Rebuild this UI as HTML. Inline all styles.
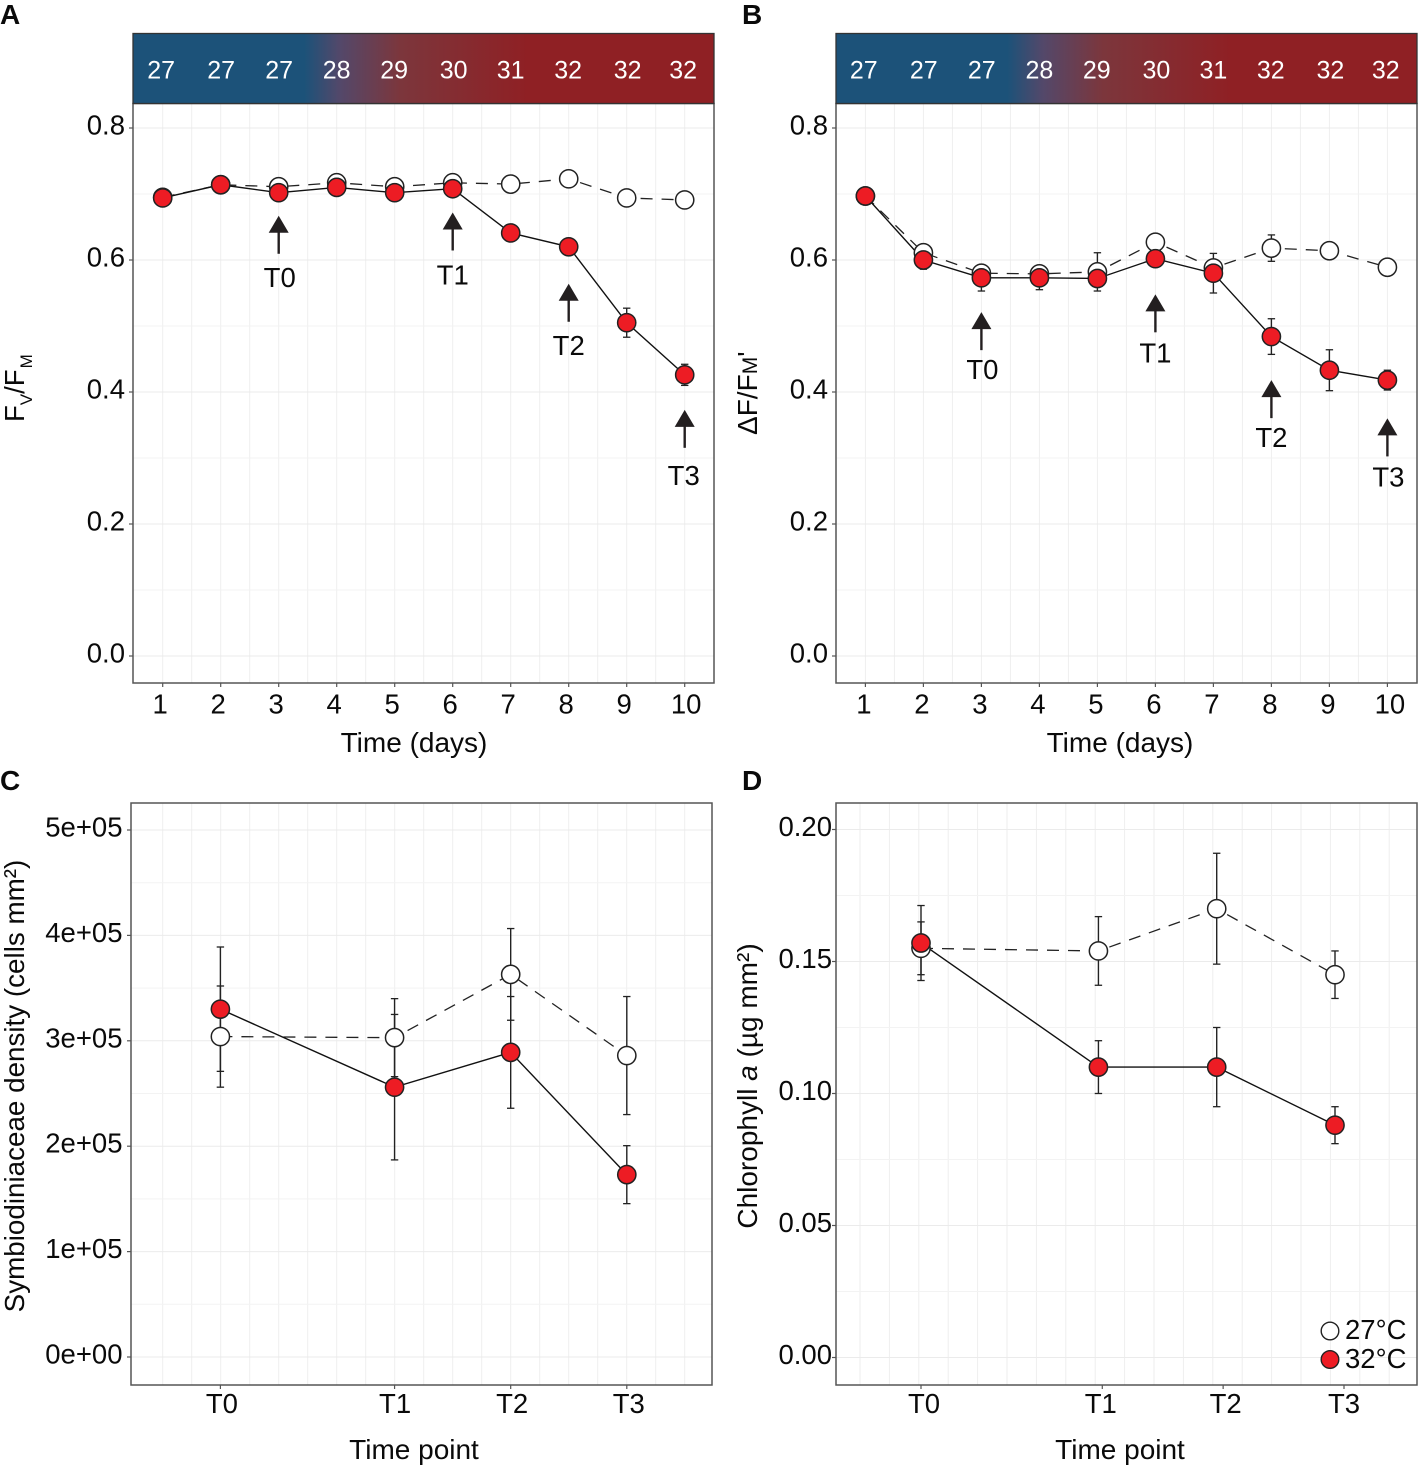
<!DOCTYPE html>
<html lang="en">
<head>
<meta charset="utf-8">
<title>Thermal stress time series</title>
<style>
html,body{margin:0;padding:0;background:#fff;}
svg{display:block;}
text{font-family:"Liberation Sans",sans-serif;fill:#0a0a0a;}
</style>
</head>
<body>
<svg id="figure" xmlns="http://www.w3.org/2000/svg" width="1418" height="1468" viewBox="0 0 1418 1468">
  <defs>
    <linearGradient id="gradA" gradientUnits="userSpaceOnUse" x1="133" x2="714" y1="0" y2="0">
      <stop offset="0.295" stop-color="#1c5279"/><stop offset="0.356" stop-color="#53486a"/><stop offset="0.46" stop-color="#7c363c"/><stop offset="0.68" stop-color="#8f2024"/>
    </linearGradient>
    <linearGradient id="gradB" gradientUnits="userSpaceOnUse" x1="836" x2="1417" y1="0" y2="0">
      <stop offset="0.295" stop-color="#1c5279"/><stop offset="0.356" stop-color="#53486a"/><stop offset="0.46" stop-color="#7c363c"/><stop offset="0.68" stop-color="#8f2024"/>
    </linearGradient>
  </defs>
  <g id="layer"></g>

  <text x="0" y="24" font-size="28" font-weight="700">A</text>
  <text x="742" y="24" font-size="28" font-weight="700">B</text>
  <text x="0" y="790" font-size="28" font-weight="700">C</text>
  <text x="742" y="790" font-size="28" font-weight="700">D</text>

  <text x="414" y="752" font-size="28" text-anchor="middle">Time (days)</text>
  <text x="1120" y="752" font-size="28" text-anchor="middle">Time (days)</text>
  <text x="414" y="1459" font-size="28" text-anchor="middle">Time point</text>
  <text x="1120" y="1459" font-size="28" text-anchor="middle">Time point</text>

  <text transform="translate(24 422) rotate(-90)" font-size="27.5">F<tspan font-size="17" dy="8">V</tspan><tspan dy="-8">/F</tspan><tspan font-size="17" dx="1" baseline-shift="-8">M</tspan></text>
  <text transform="translate(757 435) rotate(-90)" font-size="28">ΔF/F<tspan font-size="21">M</tspan>'</text>
  <text transform="translate(24 1086) rotate(-90)" font-size="27.8" text-anchor="middle">Symbiodiniaceae density (cells mm²)</text>
  <text transform="translate(757 1086) rotate(-90)" font-size="28" text-anchor="middle">Chlorophyll <tspan font-style="italic">a</tspan> (µg mm²)</text>

  <g>
    <circle cx="1330" cy="1331" r="8.8" fill="#fff" stroke="#222" stroke-width="1.4"/>
    <text x="1345" y="1339" font-size="27.5">27°C</text>
    <circle cx="1330" cy="1359.5" r="8.8" fill="#ed1c24" stroke="#222" stroke-width="1.4"/>
    <text x="1345" y="1368" font-size="27.5">32°C</text>
  </g>
</svg>

<script>
// ---- shared categories ----
var dayValues = [1,2,3,4,5,6,7,8,9,10];
var dayTickLabels = ['1','2','3','4','5','6','7','8','9','10'];
var stripTemps = [27,27,27,28,29,30,31,32,32,32];
var timePointDays = [3,6,8,10];
var timePointLabels = ['T0','T1','T2','T3'];

// ---- panel A: Fv/Fm ----
var fvfmTicks = [0,0.2,0.4,0.6,0.8];
var fvfmTickLabels = ['0.0','0.2','0.4','0.6','0.8'];
var fvfmControl = [0.695,0.714,0.711,0.717,0.711,0.717,0.715,0.723,0.694,0.691];
var fvfmHeated = [0.694,0.714,0.702,0.710,0.702,0.708,0.641,0.620,0.505,0.426];
var fvfmControlErr = [0,0,0,0,0,0,0,0,0,0];
var fvfmHeatedErr = [0,0,0,0,0,0,0,0,0.022,0.016];
var fvfmArrowTips = [0.667,0.672,0.564,0.373];

// ---- panel B: delta F / Fm' ----
var yieldTicks = [0,0.2,0.4,0.6,0.8];
var yieldTickLabels = ['0.0','0.2','0.4','0.6','0.8'];
var yieldControl = [0.697,0.611,0.580,0.579,0.582,0.627,0.588,0.618,0.614,0.589];
var yieldHeated = [0.697,0.600,0.573,0.573,0.572,0.602,0.580,0.484,0.433,0.418];
var yieldControlErr = [0,0.012,0.012,0.010,0.029,0,0.010,0.020,0,0];
var yieldHeatedErr = [0,0.014,0.020,0.018,0.012,0,0.030,0.027,0.031,0.015];
var yieldArrowTips = [0.521,0.548,0.418,0.360];

// ---- panel C: Symbiodiniaceae density ----
var densityTicks = [0,100000,200000,300000,400000,500000];
var densityTickLabels = ['0e+00','1e+05','2e+05','3e+05','4e+05','5e+05'];
var densityControl = [304000,303000,363000,286000];
var densityHeated = [330000,256000,289000,173000];
var densityControlErr = [48000,37000,43500,56000];
var densityHeatedErr = [59000,69000,53000,27500];

// ---- panel D: chlorophyll a ----
var chlTicks = [0,0.05,0.10,0.15,0.20];
var chlTickLabels = ['0.00','0.05','0.10','0.15','0.20'];
var chlControl = [0.155,0.154,0.170,0.145];
var chlHeated = [0.157,0.110,0.110,0.088];
var chlControlErr = [0.010,0.013,0.021,0.009];
var chlHeatedErr = [0.0142,0.010,0.015,0.007];

var NS = 'http://www.w3.org/2000/svg';
var layer = document.getElementById('layer');

function make(tag, attrs, parent) {
  var node = document.createElementNS(NS, tag);
  for (var k in attrs) node.setAttribute(k, attrs[k]);
  parent.appendChild(node);
  return node;
}

function linear(d0, r0, d1, r1) {
  return function (v) { return r0 + (v - d0) * (r1 - r0) / (d1 - d0); };
}

function drawPanel(p) {
  var g = make('g', {}, layer);
  
  

  // background grid
  var grid = make('g', {}, g);
  
  
  for (var gx = p.gridStart; gx < p.right - 1; gx += p.gridStep) {
    var vLine = make('line', {x1: gx, x2: gx, y1: p.top, y2: p.bottom, stroke: '#eeeeee', 'stroke-width': 1}, grid);
    
    
  }
  var halfStep = (p.yTicks[1] - p.yTicks[0]) / 2;
  for (var t = 0; t <= p.yTicks.length * 2 - 2; t++) {
    var hy = p.y(p.yTicks[0] + t * halfStep);
    var hLine = make('line', {x1: p.left, x2: p.right, y1: hy, y2: hy, stroke: t % 2 ? '#f3f3f3' : '#ebebeb', 'stroke-width': 1}, grid);
    
    
  }

  // error bars
  function errorBars(vals, errs, xs, name) {
    var eg = make('g', {}, g);
    
    
    vals.forEach(function (v, i) {
      if (!errs[i]) return;
      var cx = p.x(xs[i]);
      var yT = p.y(v + errs[i]);
      var yB = p.y(v - errs[i]);
      var stem = make('line', {x1: cx, x2: cx, y1: yT, y2: yB, stroke: '#222', 'stroke-width': 1.4}, eg);
      
      
      var capT = make('line', {x1: cx - 3.7, x2: cx + 3.7, y1: yT, y2: yT, stroke: '#222', 'stroke-width': 1.3}, eg);
      
      
      var capB = make('line', {x1: cx - 3.7, x2: cx + 3.7, y1: yB, y2: yB, stroke: '#222', 'stroke-width': 1.3}, eg);
      
      
    });
  }
  errorBars(p.control, p.controlErr, p.xs, 'control-error-bars-' + p.id);
  errorBars(p.heated, p.heatedErr, p.xs, 'heated-error-bars-' + p.id);

  // series lines
  function pointsOf(vals) {
    return vals.map(function (v, i) { return p.x(p.xs[i]) + ',' + p.y(v); }).join(' ');
  }
  var controlLine = make('polyline', {points: pointsOf(p.control), fill: 'none', stroke: '#222', 'stroke-width': 1.3, 'stroke-dasharray': '12 9'}, g);
  
  
  var heatedLine = make('polyline', {points: pointsOf(p.heated), fill: 'none', stroke: '#111', 'stroke-width': 1.4}, g);
  
  

  // points
  p.control.forEach(function (v, i) {
    var c = make('circle', {cx: p.x(p.xs[i]), cy: p.y(v), r: 9.1, fill: '#fff', stroke: '#222', 'stroke-width': 1.5}, g);
    
    
  });
  p.heated.forEach(function (v, i) {
    var c = make('circle', {cx: p.x(p.xs[i]), cy: p.y(v), r: 9.1, fill: '#ed1c24', stroke: '#222', 'stroke-width': 1.5}, g);
    
    
  });

  // frame
  var frame = make('rect', {x: p.left, y: p.top, width: p.right - p.left, height: p.bottom - p.top, fill: 'none', stroke: '#555', 'stroke-width': 1.5}, g);
  
  

  // y axis
  p.yTicks.forEach(function (v, i) {
    var ty = p.y(v);
    var tick = make('line', {x1: p.left - 4, x2: p.left, y1: ty, y2: ty, stroke: '#555', 'stroke-width': 1.2}, g);
    
    
    var lbl = make('text', {x: p.yLabelX, y: ty + 6.5, 'text-anchor': 'end', 'font-size': 27.5}, g);
    lbl.textContent = p.yLabels[i];
    
    
  });

  // x axis
  p.xTicks.forEach(function (v, i) {
    var tx = p.xTickPos(v);
    var tick = make('line', {x1: tx, x2: tx, y1: p.bottom, y2: p.bottom + 4, stroke: '#555', 'stroke-width': 1.2}, g);
    
    
    var lbl = make('text', {x: tx + p.xLabelShift[i], y: p.bottom + p.xLabelDrop, 'text-anchor': 'middle', 'font-size': 27.5}, g);
    lbl.textContent = p.xLabels[i];
    
    
  });

  // temperature strip
  if (p.stripFill) {
    var strip = make('rect', {x: p.left, y: 33.5, width: p.right - p.left, height: p.top - 33.5, fill: p.stripFill, stroke: '#333', 'stroke-width': 1.3}, g);
    
    
    stripTemps.forEach(function (temp, i) {
      var s = make('text', {x: p.x(dayValues[i]) + stripLabelShift[i], y: 78.5, 'text-anchor': 'middle', 'font-size': 25, style: 'fill:#fff'}, g);
      s.textContent = String(temp);
      
      
    });
  }

  // time-point arrows
  if (p.arrowTips) {
    p.arrowTips.forEach(function (tipVal, i) {
      var ax = p.x(timePointDays[i]);
      var tip = p.y(tipVal);
      var head = make('polygon', {points: (ax - 10) + ',' + (tip + 17) + ' ' + (ax + 10) + ',' + (tip + 17) + ' ' + ax + ',' + tip, fill: '#231f20'}, g);
      
      
      var shaft = make('line', {x1: ax, x2: ax, y1: tip + 15, y2: tip + 38, stroke: '#231f20', 'stroke-width': 2.4}, g);
      
      
      var lbl = make('text', {x: ax + p.arrowLabelShiftX[i], y: tip + p.arrowLabelDrop[i], 'text-anchor': 'middle', 'font-size': 27.5}, g);
      lbl.textContent = timePointLabels[i];
      
      
    });
  }
}

var stripLabelShift = [-1.6,0.4,0.4,0,-0.6,1,0,-0.6,1,-1.6];

var xA = linear(1, 162.7, 10, 684.7);
var xB = linear(1, 865.4, 10, 1387.4);
var xC = linear(3, 220.4, 10, 626.8);
var xD = linear(3, 921, 10, 1335);

drawPanel({
  id: 'a', left: 133, right: 714, top: 103.5, bottom: 683,
  gridStart: 162.7, gridStep: 29,
  x: xA, xTickPos: xA, y: linear(0, 656, 0.8, 128), xLabelDrop: 30.5,
  xs: dayValues, xTicks: dayValues, xLabels: dayTickLabels, xLabelShift: [-2.5,-2.5,-2.5,-2.5,-2.5,-2.5,-2.5,-2.5,-2.5,1.5],
  yTicks: fvfmTicks, yLabels: fvfmTickLabels, yLabelX: 125,
  control: fvfmControl, heated: fvfmHeated, controlErr: fvfmControlErr, heatedErr: fvfmHeatedErr,
  stripFill: 'url(#gradA)', arrowTips: fvfmArrowTips,
  arrowLabelDrop: [71,72,71,75], arrowLabelShiftX: [1,0,0,-1]
});
drawPanel({
  id: 'b', left: 836, right: 1417, top: 103.5, bottom: 683,
  gridStart: 865.4, gridStep: 29,
  x: xB, xTickPos: xB, y: linear(0, 656, 0.8, 128), xLabelDrop: 30.5,
  xs: dayValues, xTicks: dayValues, xLabels: dayTickLabels, xLabelShift: [-1.5,-1.5,-1.5,-1.5,-1.5,-1.5,-1.5,-1.5,-1.5,2.5],
  yTicks: yieldTicks, yLabels: yieldTickLabels, yLabelX: 828,
  control: yieldControl, heated: yieldHeated, controlErr: yieldControlErr, heatedErr: yieldHeatedErr,
  stripFill: 'url(#gradB)', arrowTips: yieldArrowTips,
  arrowLabelDrop: [67,68,67,68], arrowLabelShiftX: [1,0,0,1]
});
drawPanel({
  id: 'c', left: 131, right: 712, top: 803, bottom: 1385,
  gridStart: 162.7, gridStep: 29,
  x: xC, xTickPos: xC, y: linear(0, 1357, 500000, 830), xLabelDrop: 28,
  xs: timePointDays, xTicks: timePointDays, xLabels: timePointLabels, xLabelShift: [1.5,0.5,1.5,2],
  yTicks: densityTicks, yLabels: densityTickLabels, yLabelX: 122.5,
  control: densityControl, heated: densityHeated, controlErr: densityControlErr, heatedErr: densityHeatedErr
});
drawPanel({
  id: 'd', left: 836, right: 1417, top: 803, bottom: 1385,
  gridStart: 860, gridStep: 29.4,
  x: xD, xTickPos: linear(3, 921, 10, 1344), y: linear(0, 1357.5, 0.20, 829.5), xLabelDrop: 28,
  xs: timePointDays, xTicks: timePointDays, xLabels: timePointLabels, xLabelShift: [3,-1.5,2.5,0],
  yTicks: chlTicks, yLabels: chlTickLabels, yLabelX: 832,
  control: chlControl, heated: chlHeated, controlErr: chlControlErr, heatedErr: chlHeatedErr
});
</script>
</body>
</html>
